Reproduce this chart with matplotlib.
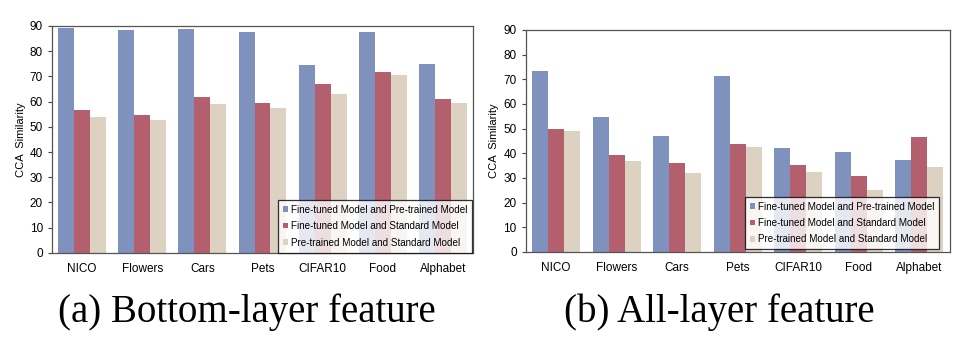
import numpy as np
import matplotlib
matplotlib.use("Agg")
import matplotlib.pyplot as plt

# === Data ===
datasets = ["NICO", "Flowers", "Cars", "Pets", "CIFAR10", "Food", "Alphabet"]
series_names = ["Fine-tuned Model and Pre-trained Model",
                "Fine-tuned Model and Standard Model",
                "Pre-trained Model and Standard Model"]

# bottom-layer feature
bottom_ft_pre = [89.1, 88.3, 88.7, 87.7, 74.4, 87.5, 74.8]
bottom_ft_std = [56.6, 54.7, 61.8, 59.4, 67.1, 71.7, 61.1]
bottom_pre_std = [53.7, 52.8, 58.9, 57.6, 63.0, 70.5, 59.4]

# all-layer feature
all_ft_pre = [73.5, 54.9, 47.0, 71.2, 42.0, 40.7, 37.1]
all_ft_std = [49.7, 39.1, 36.0, 43.6, 35.2, 30.6, 46.7]
all_pre_std = [49.0, 36.9, 32.1, 42.6, 32.3, 25.0, 34.6]

captions = ["(a) Bottom-layer feature", "(b) All-layer feature"]

colors = ["#7f92bd", "#b45f6e", "#ddd1c1"]
bar_w = 0.265

plt.rcParams['font.family'] = ['Liberation Sans', 'DejaVu Sans']

fig = plt.figure(figsize=(9.7, 3.4), dpi=100)
ax_a = fig.add_axes([0.0536, 0.256, 0.434, 0.668])
ax_b = fig.add_axes([0.542, 0.259, 0.437, 0.653])


def draw_panel(ax, groups, legend_anchor):
    x = np.arange(len(datasets))
    for k, (vals, name) in enumerate(zip(groups, series_names)):
        ax.bar(x + (k - 1) * bar_w, vals, width=bar_w, color=colors[k],
               label=name, zorder=2)
    ax.set_xlim(-0.5, len(datasets) - 0.5)
    ax.set_ylim(0, 90)
    ax.set_yticks(range(0, 91, 10))
    ax.set_xticks(x)
    ax.set_xticklabels(datasets, fontsize=8.5)
    ax.tick_params(axis='y', labelsize=8.5, length=3, width=0.8, color='#444444')
    ax.tick_params(axis='x', length=0, pad=7)
    ax.set_ylabel("CCA  Similarity", fontsize=8, labelpad=3)
    for s in ax.spines.values():
        s.set_color('#555555')
        s.set_linewidth(0.9)
    leg = ax.legend(loc='lower right', bbox_to_anchor=legend_anchor,
                    fontsize=7.1, frameon=True, fancybox=False,
                    handlelength=0.5, handleheight=0.5, handletextpad=0.25,
                    borderpad=0.5, labelspacing=0.65, borderaxespad=0)
    leg.get_frame().set_edgecolor('black')
    leg.get_frame().set_linewidth(0.9)


draw_panel(ax_a, [bottom_ft_pre, bottom_ft_std, bottom_pre_std], (0.998, 0.002))
draw_panel(ax_b, [all_ft_pre, all_ft_std, all_pre_std], (0.975, 0.012))

fig.text(0.254, 0.082, captions[0], ha='center', va='center',
         fontsize=28, family=['Liberation Serif', 'DejaVu Serif'])
fig.text(0.742, 0.082, captions[1], ha='center', va='center',
         fontsize=28, family=['Liberation Serif', 'DejaVu Serif'])

fig.savefig("out.png", dpi=100)
